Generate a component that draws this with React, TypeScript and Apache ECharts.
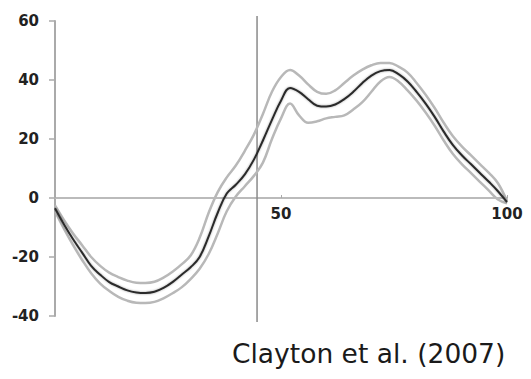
import React, { useEffect, useRef } from "react";
import * as echarts from "echarts";

const xPercent = [0,2,4,6,8,10,12,14,16,18,20,22,24,26,28,30,32,34,36,38,40,42,44,46,48,50,52,54,56,58,60,62,64,66,68,70,72,74,76,78,80,82,84,86,88,90,92,94,96,98,100];
const meanValues = [-3.5,-9,-14,-18.5,-23,-26,-28.5,-30,-31.3,-32,-32.2,-31.8,-30.5,-28.5,-26,-23.5,-20,-13,-5,1.5,4.5,8,13,19.5,26.5,33,37.3,36,33.5,31.3,31,31.7,33.5,36,39,41.5,43,43.4,42,39.5,36,32,27.5,22.5,18,14.5,11.5,8.5,5.5,2.3,-1.4];
const upperValues = [-2.5,-7.5,-12,-16,-20,-23,-25.3,-26.8,-28,-28.7,-28.8,-28.4,-27,-25,-22.5,-19.5,-13.5,-5,2,7,11,16,21.5,28.5,36,41,43.4,41.5,38.5,36,35.3,36.5,39,41.5,43.5,45,45.8,45.8,44.5,42.5,39,35,30.5,25.5,21,17.5,14.5,11.5,8.5,5,-1];
const lowerValues = [-4.5,-10.5,-16,-21,-25.5,-29,-31.5,-33.5,-34.8,-35.5,-35.6,-35.2,-34,-32.3,-30.3,-27.5,-24,-19,-12,-4.5,0.5,4,7.5,12,20,27,32,28,25.5,26,27,27.5,28,30,32.5,36,39.5,41,39.5,36.5,33,29,24.5,19.5,15,11.5,8.5,5.5,2.5,-0.5,-1.8];
const markerX = 44.7;
const markerRange = [-42, 61.7];
const yTicks = { min: -40, max: 60, interval: 20 };
const xTicks = { min: 0, max: 100, interval: 50 };
const citation = "Clayton et al. (2007)";

const pair = (vals: number[]) => xPercent.map((x, i) => [x, vals[i]]);

export default function App() {
  const ref = useRef<HTMLDivElement>(null);
  useEffect(() => {
    document.body.style.margin = "0";
    const chart = echarts.init(ref.current!, null, { renderer: "svg" });
    const labelFont = { fontFamily: "DejaVu Sans", fontWeight: "bold" as const, fontSize: 15, color: "#222" };
    const gridTop = 21;
    const gridHeight = 295;
    const zeroOffset = -(gridHeight * (0 - yTicks.min)) / (yTicks.max - yTicks.min);
    chart.setOption({
      animation: false,
      backgroundColor: "#fff",
      grid: { left: 55, top: gridTop, width: 452, height: gridHeight },
      xAxis: {
        type: "value",
        min: xTicks.min,
        max: xTicks.max,
        interval: xTicks.interval,
        offset: zeroOffset,
        axisLine: { onZero: false, lineStyle: { color: "#bbb", width: 2 } },
        axisTick: { show: true, inside: true, length: 3, lineStyle: { color: "#aaa" } },
        axisLabel: { ...labelFont, margin: 8, formatter: (v: number) => (v === 0 ? "" : String(v)) },
        splitLine: { show: false },
      },
      yAxis: {
        type: "value",
        min: yTicks.min,
        max: yTicks.max,
        interval: yTicks.interval,
        axisLine: { show: true, lineStyle: { color: "#aaa", width: 2 } },
        axisTick: { show: true, length: 6, lineStyle: { color: "#aaa", width: 1.5 } },
        axisLabel: { ...labelFont, margin: 16 },
        splitLine: { show: false },
      },
      series: [
        {
          type: "line",
          data: [[markerX, markerRange[0]], [markerX, markerRange[1]]],
          showSymbol: false,
          clip: false,
          lineStyle: { color: "#8a8a8a", width: 1.5 },
          z: 1,
        },
        {
          type: "line",
          data: pair(upperValues),
          smooth: 0.4,
          showSymbol: false,
          lineStyle: { color: "#b8b8b8", width: 2.5 },
          z: 2,
        },
        {
          type: "line",
          data: pair(lowerValues),
          smooth: 0.4,
          showSymbol: false,
          lineStyle: { color: "#b8b8b8", width: 2.5 },
          z: 2,
        },
        {
          type: "line",
          data: pair(meanValues),
          smooth: 0.4,
          showSymbol: false,
          lineStyle: { color: "#2a2a2a", width: 2, shadowColor: "rgba(0,0,0,0.35)", shadowBlur: 2 },
          z: 3,
        },
      ],
      graphic: [
        {
          type: "text",
          left: 232,
          top: 340,
          style: { text: citation, fontFamily: "DejaVu Sans", fontSize: 26.5, fill: "#1a1a1a" },
        },
      ],
    });
    return () => chart.dispose();
  }, []);
  return <div ref={ref} style={{ width: 531, height: 379 }} />;
}
